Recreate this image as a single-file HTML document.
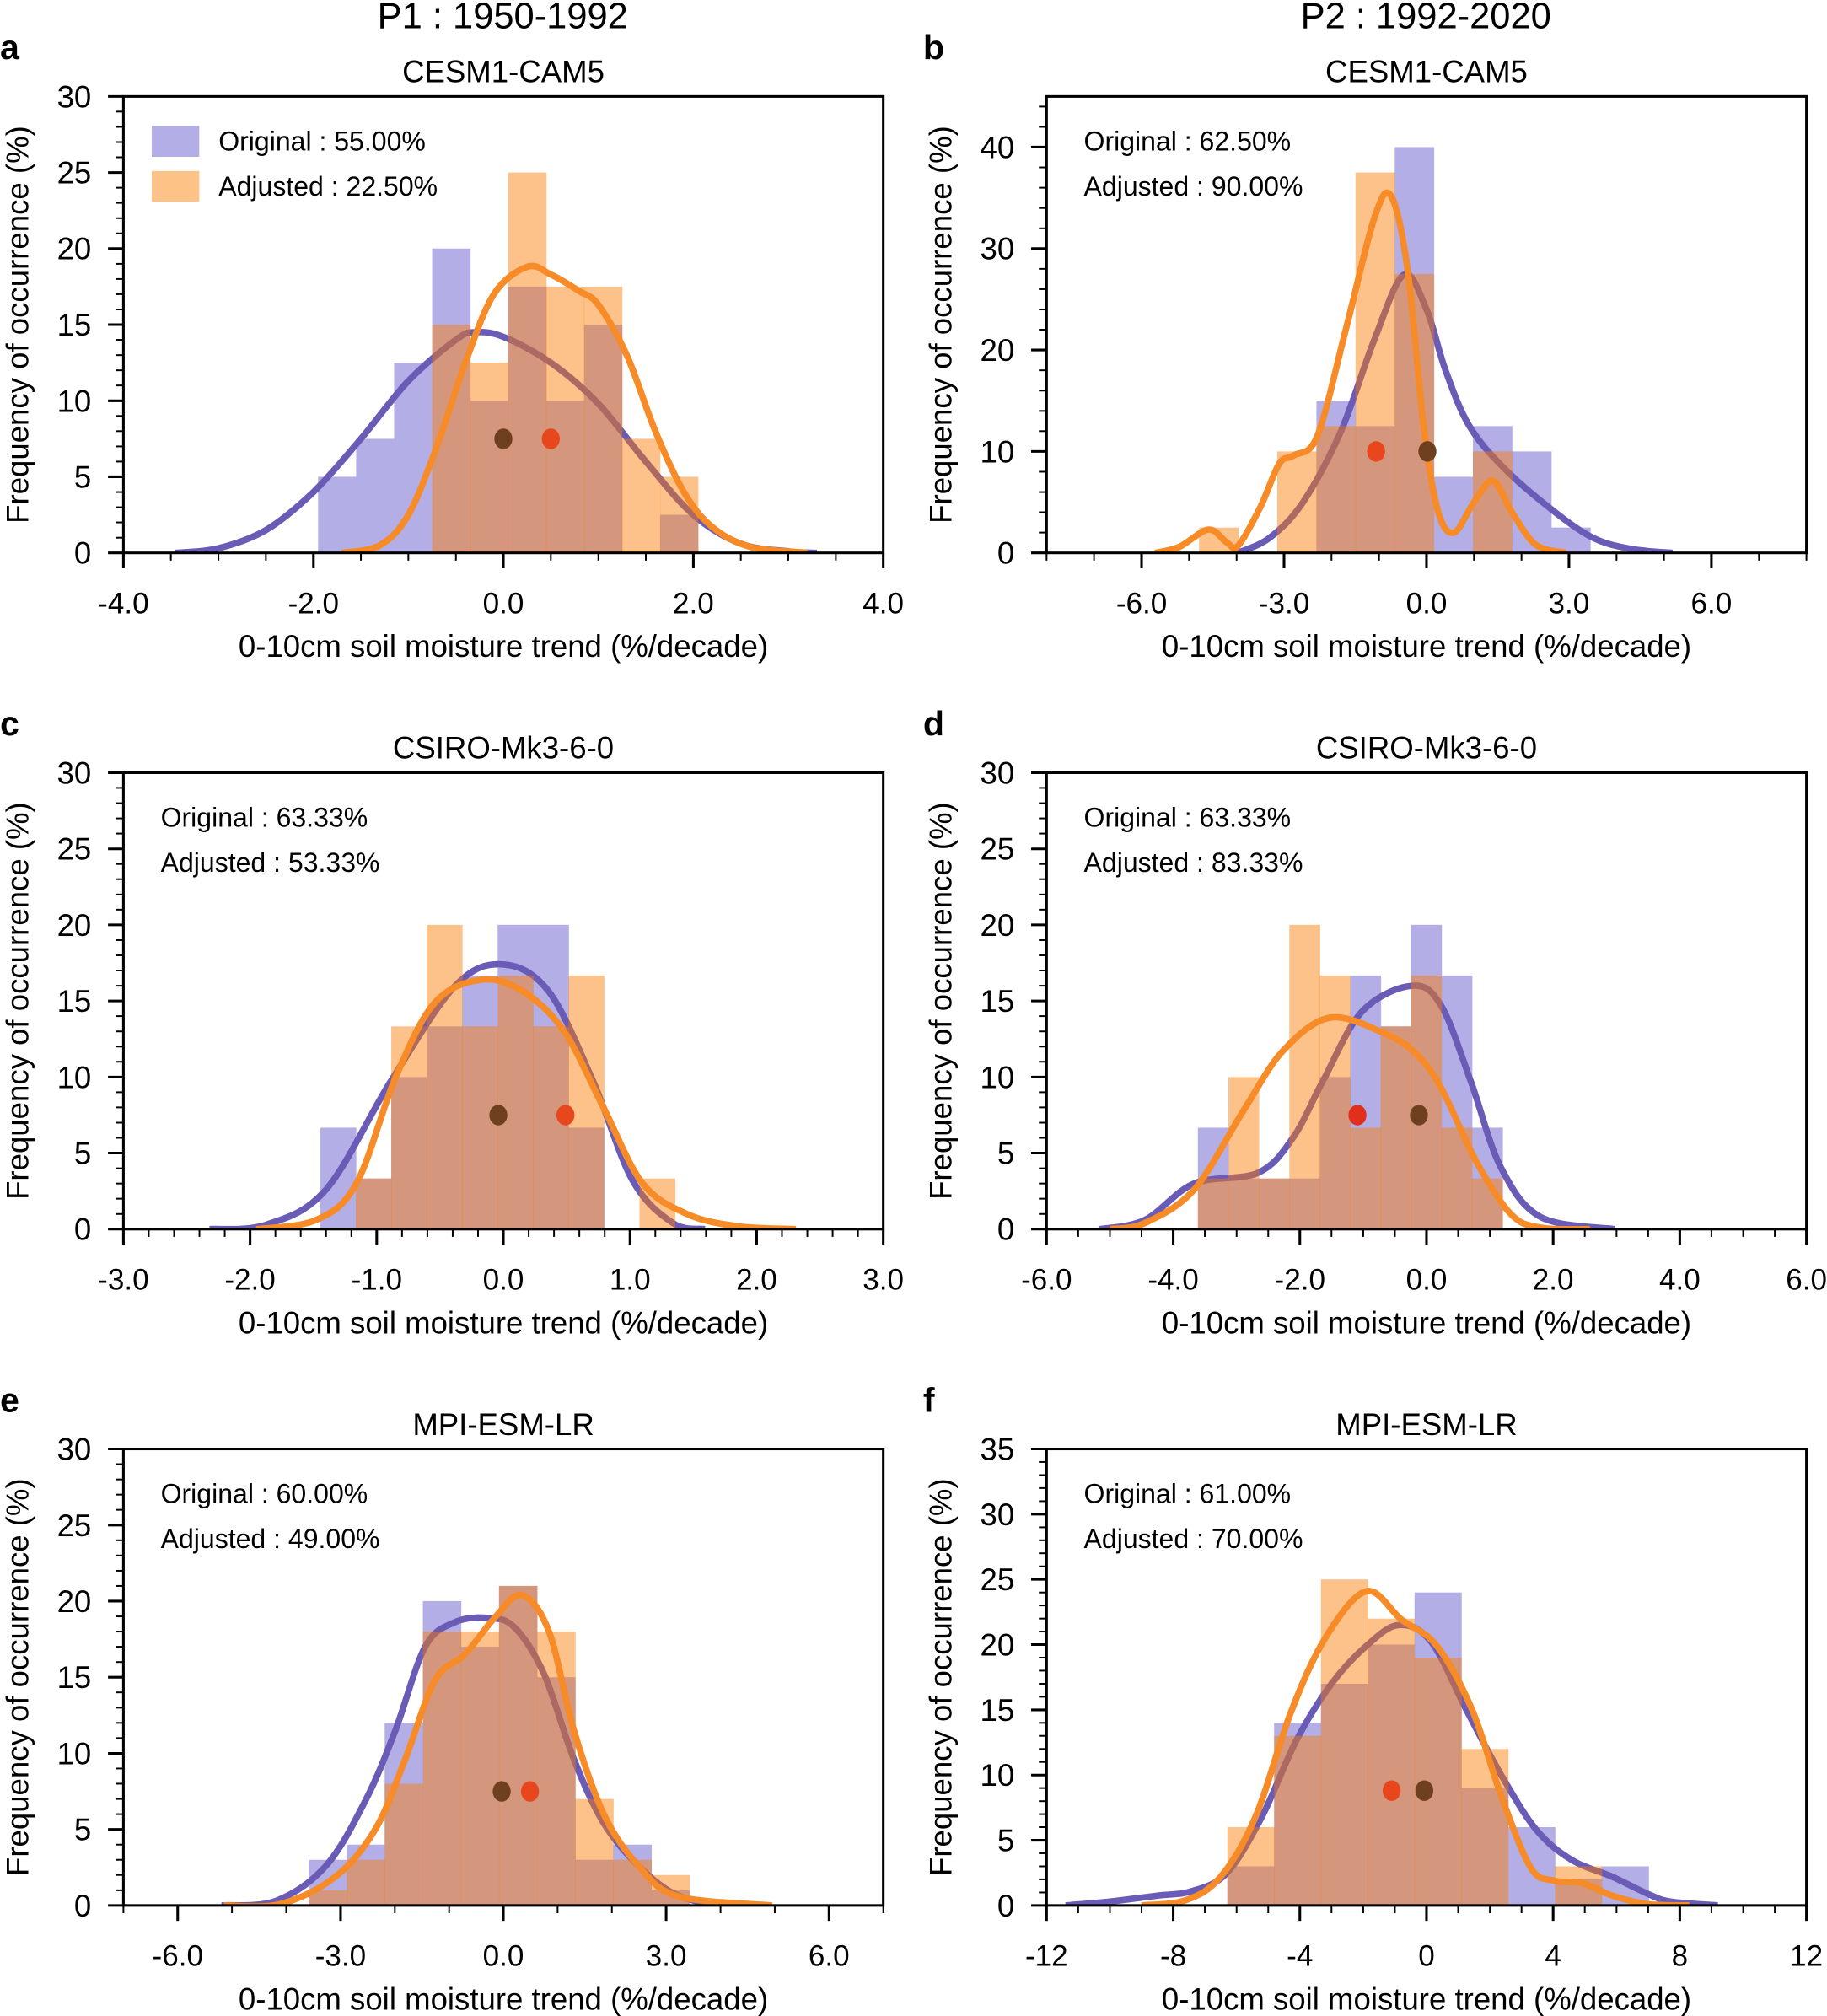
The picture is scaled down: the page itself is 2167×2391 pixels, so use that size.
<!DOCTYPE html>
<html><head><meta charset="utf-8"><style>
html,body{margin:0;padding:0;background:#fff}
svg{display:block}
text{font-family:"Liberation Sans",sans-serif;fill:#000}
</style></head><body>
<svg id="s" width="2167" height="2391" viewBox="0 0 1421 1568" preserveAspectRatio="none" xmlns="http://www.w3.org/2000/svg"></svg>
<script>
const W=591,H=355;
const P=[
{L:96,T:75,x0:-4,x1:4,ym:30,xl:[-4,-2,0,2,4],dec:1,xmin:0.5,yl:[0,5,10,15,20,25,30],ymi:1,title:"CESM1-CAM5",let:"a",
 bs:-1.95,bw:0.4,Pb:[5,7.5,12.5,20,10,17.5,10,15,0,2.5],Ob:[0,0,0,15,12.5,25,17.5,17.5,7.5,5],
 pc:[[-3.45,0],[-3,0.3],[-2.5,1.5],[-2,4],[-1.5,7.5],[-1,11.3],[-0.5,14],[-0.3,14.5],[0,14.2],[0.5,12.5],[1,9.8],[1.5,6],[2,2.5],[2.5,0.6],[3,0.1],[3.3,0]],
 oc:[[-1.7,0],[-1.3,0.5],[-1,2.5],[-0.7,7],[-0.4,12.5],[-0.1,17],[0.25,18.8],[0.5,18.3],[0.8,17.2],[1,16.3],[1.3,13],[1.6,8],[1.9,4],[2.2,1.7],[2.6,0.4],[3.2,0]],
 dots:[[0,7.5,"#6e401f"],[0.5,7.5,"#e8461c"]],t1:"Original : 55.00%",t2:"Adjusted : 22.50%",legend:true},
{L:814,T:75,x0:-8,x1:8,ym:45,xl:[-6,-3,0,3,6],dec:1,xmin:1,yl:[0,10,20,30,40],ymi:2,title:"CESM1-CAM5",let:"b",
 bs:-4.79,bw:0.824,Pb:[0,0,0,15,12.5,40,7.5,12.5,10,2.5],Ob:[2.5,0,10,12.5,37.5,27.5,0,10,0,0],
 pc:[[-3.97,0],[-3.3,1.5],[-2.6,5],[-1.8,12],[-1.1,21],[-0.48,27.4],[0,24],[0.4,18],[0.89,12.6],[1.6,8.5],[2.63,4.3],[3.5,1.5],[4.3,0.4],[5.18,0]],
 oc:[[-5.71,0],[-5.2,0.6],[-4.59,2.3],[-4.2,1],[-3.97,0.7],[-3.5,4.5],[-3.1,8.8],[-2.8,9.6],[-2.3,11.5],[-1.7,22],[-1.1,33],[-0.75,35.2],[-0.4,28],[-0.05,12],[0.25,4],[0.58,2],[1,5],[1.4,7.1],[1.8,4],[2.3,0.8],[2.93,0]],
 dots:[[-1.06,10,"#e8461c"],[0.02,10,"#6e401f"]],t1:"Original : 62.50%",t2:"Adjusted : 90.00%"},
{L:96,T:601,x0:-3,x1:3,ym:30,xl:[-3,-2,-1,0,1,2,3],dec:1,xmin:0.2,yl:[0,5,10,15,20,25,30],ymi:1,title:"CSIRO-Mk3-6-0",let:"c",
 bs:-1.445,bw:0.28,Pb:[6.67,3.33,10,13.33,16.67,20,20,6.67,0,0],Ob:[0,3.33,13.33,20,13.33,16.67,13.33,16.67,0,3.33],
 pc:[[-2.32,0],[-1.87,0.3],[-1.4,2.6],[-0.89,9.7],[-0.38,16],[0,17.4],[0.36,15.6],[0.71,9.7],[1.02,3.2],[1.34,0.4],[1.59,0]],
 oc:[[-1.95,0],[-1.48,0.6],[-1.16,3],[-0.85,10],[-0.54,14.9],[-0.17,16.4],[0.16,15.6],[0.48,13],[0.79,8],[1.1,3],[1.45,1],[1.84,0.2],[2.31,0]],
 dots:[[-0.04,7.5,"#6e401f"],[0.49,7.5,"#e8461c"]],t1:"Original : 63.33%",t2:"Adjusted : 53.33%"},
{L:814,T:601,x0:-6,x1:6,ym:30,xl:[-6,-4,-2,0,2,4,6],dec:1,xmin:0.5,yl:[0,5,10,15,20,25,30],ymi:1,title:"CSIRO-Mk3-6-0",let:"d",
 bs:-3.61,bw:0.481,Pb:[6.67,3.33,3.33,3.33,10,16.67,13.33,20,16.67,6.67],Ob:[3.33,10,3.33,20,16.67,6.67,13.33,16.67,6.67,3.33],
 pc:[[-5.16,0],[-4.45,0.6],[-3.67,3],[-2.66,3.7],[-2.11,6],[-1.64,9.7],[-1.02,14.3],[-0.23,16],[0.23,14.7],[0.7,9.7],[1.17,4.1],[1.8,0.8],[2.97,0]],
 oc:[[-5,0],[-4.45,0.4],[-3.67,2.6],[-2.89,7.8],[-2.27,11.7],[-1.52,13.9],[-0.63,12.8],[-0.16,11.5],[0.23,9.3],[0.78,4.5],[1.33,1],[1.8,0.1],[2.58,0]],
 dots:[[-1.09,7.5,"#e0301c"],[-0.12,7.5,"#6e401f"]],t1:"Original : 63.33%",t2:"Adjusted : 83.33%"},
{L:96,T:1127,x0:-7,x1:7,ym:30,xl:[-6,-3,0,3,6],dec:1,xmin:1,yl:[0,5,10,15,20,25,30],ymi:1,title:"MPI-ESM-LR",let:"e",
 bs:-3.59,bw:0.702,Pb:[3,4,12,20,17,21,15,3,4,1],Ob:[1,3,8,18,18,21,18,7,3,2],
 pc:[[-5.19,0],[-4.19,0.3],[-3.27,2.6],[-2.54,6.9],[-1.99,11.5],[-1.44,17],[-0.9,18.6],[-0.3,18.9],[0.2,18.3],[0.75,15.2],[1.3,9.6],[1.85,5.4],[2.49,2.6],[3.13,0.8],[3.86,0]],
 oc:[[-5.15,0],[-4.1,0.1],[-3.09,1.9],[-2.36,5],[-1.81,9.6],[-1.26,14.8],[-0.71,16.5],[-0.16,18.9],[0.34,20.4],[0.84,18],[1.3,11.5],[1.85,6],[2.49,2.6],[3.22,0.6],[4.95,0]],
 dots:[[-0.03,7.5,"#6e401f"],[0.49,7.5,"#e8461c"]],t1:"Original : 60.00%",t2:"Adjusted : 49.00%"},
{L:814,T:1127,x0:-12,x1:12,ym:35,xl:[-12,-8,-4,0,4,8,12],dec:0,xmin:1,yl:[0,5,10,15,20,25,30,35],ymi:1,title:"MPI-ESM-LR",let:"f",
 bs:-6.29,bw:1.478,Pb:[3,14,17,20,24,9,6,2,3],Ob:[6,13,25,22,19,12,0,3,0],
 pc:[[-11.4,0],[-10,0.3],[-8.5,0.75],[-7.4,1.1],[-6.3,2.5],[-5.2,6.8],[-4.1,12.7],[-3,17],[-1.9,19.9],[-0.87,21.5],[0.15,20.2],[1.26,15],[2.36,10],[3.47,5.8],[4.58,3.5],[5.87,2.2],[6.98,0.9],[7.7,0.3],[9.2,0]],
 oc:[[-9,0],[-7.6,0.4],[-6.5,2.2],[-5.4,6.8],[-4.3,14.7],[-3.2,20.5],[-1.9,24.1],[-0.78,21.9],[0.33,19.9],[1.44,15],[2.36,8.4],[3.29,2.9],[4.02,1.9],[4.95,1.7],[5.87,0.75],[6.98,0.1],[8.3,0]],
 dots:[[-1.1,8.8,"#e8461c"],[-0.07,8.8,"#6e401f"]],t1:"Original : 61.00%",t2:"Adjusted : 70.00%"}
];
let o='';
function path(pts){let d='M'+pts[0][0].toFixed(1)+','+pts[0][1].toFixed(1);
 for(let i=0;i<pts.length-1;i++){const p0=pts[i-1]||pts[i],p1=pts[i],p2=pts[i+1],p3=pts[i+2]||p2;
  const c1=[p1[0]+(p2[0]-p0[0])/6,p1[1]+(p2[1]-p0[1])/6],c2=[p2[0]-(p3[0]-p1[0])/6,p2[1]-(p3[1]-p1[1])/6];
  d+=' C'+c1.map(v=>v.toFixed(1))+' '+c2.map(v=>v.toFixed(1))+' '+p2.map(v=>v.toFixed(1));}
 return d;}
P.forEach((p,k)=>{
 const B=p.T+H,fx=x=>p.L+(x-p.x0)/(p.x1-p.x0)*W,fy=y=>B-y/p.ym*H;
 o+=`<clipPath id="c${k}"><rect x="${p.L}" y="${p.T}" width="${W}" height="${H}"/></clipPath><g clip-path="url(#c${k})">`;
 p.Pb.forEach((v,i)=>{if(v>0){const a=fx(p.bs+i*p.bw),b=fx(p.bs+(i+1)*p.bw);o+=`<rect x="${a.toFixed(1)}" y="${fy(v).toFixed(1)}" width="${(b-a+0.3).toFixed(1)}" height="${(B-fy(v)).toFixed(1)}" fill="#b3aee6"/>`;}});
 o+=`<path d="${path(p.pc.map(q=>[fx(q[0]),fy(q[1])]))}" fill="none" stroke="#6a5bb7" stroke-width="5" stroke-linejoin="round"/>`;
 p.Ob.forEach((v,i)=>{if(v>0){const a=fx(p.bs+i*p.bw),b=fx(p.bs+(i+1)*p.bw);o+=`<rect x="${a.toFixed(1)}" y="${fy(v).toFixed(1)}" width="${(b-a+0.3).toFixed(1)}" height="${(B-fy(v)).toFixed(1)}" fill="rgb(251,122,0)" fill-opacity="0.46"/>`;}});
 o+=`<path d="${path(p.oc.map(q=>[fx(q[0]),fy(q[1])]))}" fill="none" stroke="#f68b27" stroke-width="5" stroke-linejoin="round"/>`;
 p.dots.forEach(d=>{o+=`<ellipse cx="${fx(d[0]).toFixed(1)}" cy="${fy(d[1]).toFixed(1)}" rx="7" ry="8" fill="${d[2]}"/>`;});
 o+='</g>';
 o+=`<rect x="${p.L}" y="${p.T}" width="${W}" height="${H}" fill="none" stroke="#000" stroke-width="2"/>`;
 const n=Math.round((p.x1-p.x0)/p.xmin);
 for(let i=0;i<=n;i++){const x=p.x0+i*p.xmin,X=fx(x);const maj=p.xl.some(v=>Math.abs(v-x)<1e-6);
  o+=`<line x1="${X.toFixed(1)}" y1="${B}" x2="${X.toFixed(1)}" y2="${B+(maj?12:6)}" stroke="#000" stroke-width="${maj?2:1.3}"/>`;}
 p.xl.forEach(v=>{o+=`<text x="${fx(v).toFixed(1)}" y="${B+47}" font-size="23" text-anchor="middle">${v.toFixed(p.dec)}</text>`;});
 const m=Math.floor(p.ym/p.ymi+1e-6);
 for(let i=0;i<=m;i++){const y=i*p.ymi,Y=fy(y);const maj=p.yl.includes(Math.round(y*1000)/1000);
  o+=`<line x1="${p.L-(maj?12:6)}" y1="${Y.toFixed(1)}" x2="${p.L}" y2="${Y.toFixed(1)}" stroke="#000" stroke-width="${maj?2:1.3}"/>`;}
 p.yl.forEach(v=>{o+=`<text x="${p.L-25}" y="${(fy(v)+8.5).toFixed(1)}" font-size="24" text-anchor="end">${v}</text>`;});
 o+=`<text x="${p.L+W/2}" y="${B+81}" font-size="24" text-anchor="middle">0-10cm soil moisture trend (%/decade)</text>`;
 o+=`<text transform="translate(${p.L-74},${p.T+H/2}) rotate(-90)" font-size="24" text-anchor="middle">Frequency of occurrence (%)</text>`;
 o+=`<text x="${p.L+W/2}" y="${p.T-11}" font-size="24" text-anchor="middle">${p.title}</text>`;
 o+=`<text x="${p.L-96}" y="${p.T-29}" font-size="27" font-weight="bold">${p.let}</text>`;
 const tx=p.legend?p.L+74:p.L+29;
 if(p.legend){o+=`<rect x="${p.L+22}" y="${p.T+23}" width="37" height="24" fill="#b3aee6"/><rect x="${p.L+22}" y="${p.T+58}" width="37" height="24" fill="#fdc286"/>`;}
 o+=`<text x="${tx}" y="${p.T+42}" font-size="21">${p.t1}</text><text x="${tx}" y="${p.T+77}" font-size="21">${p.t2}</text>`;
});
o+=`<text x="391" y="22" font-size="28.5" text-anchor="middle">P1 : 1950-1992</text><text x="1109" y="22" font-size="28.5" text-anchor="middle">P2 : 1992-2020</text>`;
document.getElementById('s').innerHTML=o;
</script>
</body></html>
